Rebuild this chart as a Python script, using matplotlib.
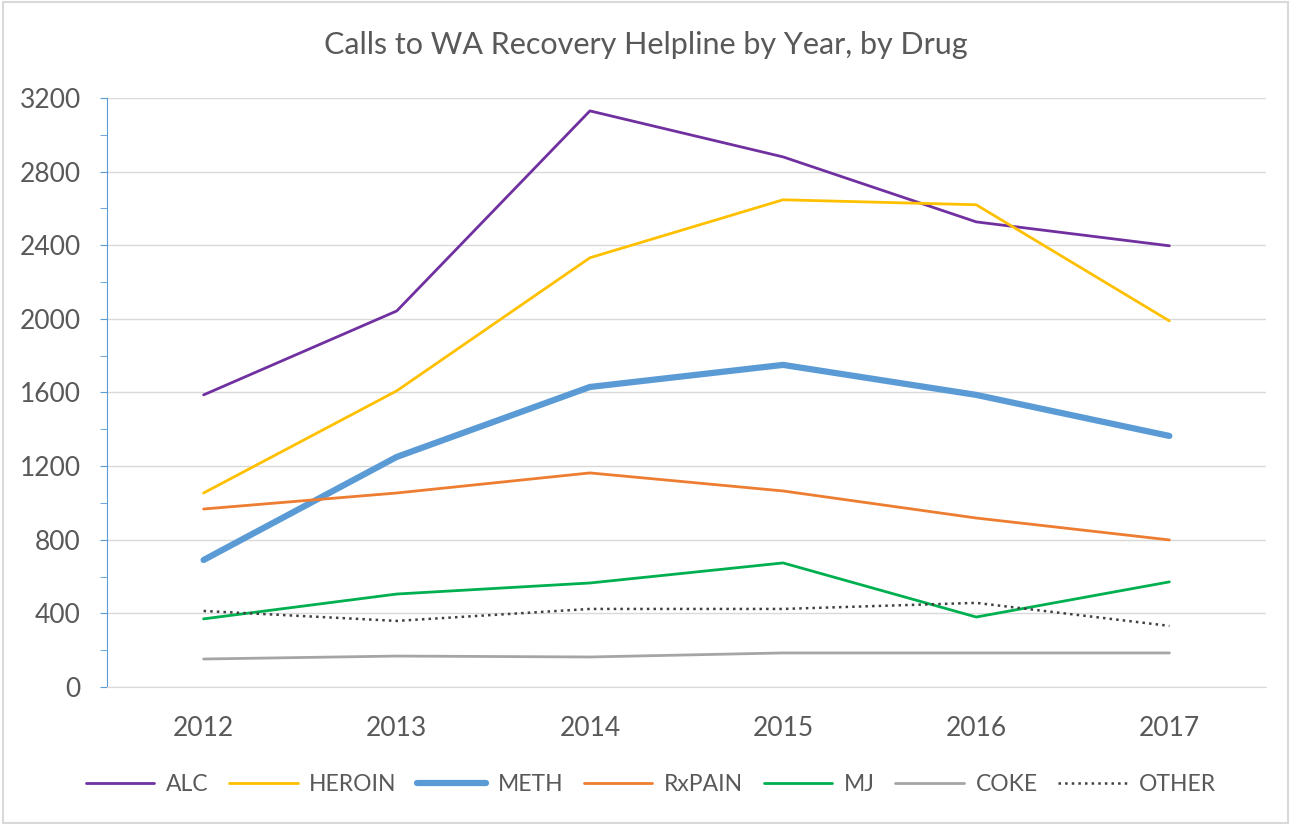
import numpy as np
import matplotlib
matplotlib.use("Agg")
from matplotlib import pyplot as plt
from matplotlib.ticker import MultipleLocator
from matplotlib.patches import Rectangle

plt.rcParams['font.family'] = ['Lato', 'DejaVu Sans']

years = ['2012', '2013', '2014', '2015', '2016', '2017']

alc = [1587, 2043, 3130, 2880, 2527, 2397]
heroin = [1054, 1609, 2332, 2647, 2620, 1989]
meth = [690, 1250, 1630, 1750, 1587, 1364]
rxpain = [967, 1054, 1163, 1065, 918, 799]
mj = [370, 505, 565, 674, 380, 571]
coke = [152, 168, 163, 185, 185, 185]
other = [413, 359, 424, 424, 457, 332]

fig = plt.figure(figsize=(12.91, 8.25), dpi=100)
ax = fig.add_axes([0.0829, 0.1673, 0.8977, 0.7139])

x = np.arange(len(years))
# (label, data, couleur, epaisseur, style)
series = [
    ('ALC', alc, '#7030A0', 2.0, '-'),
    ('HEROIN', heroin, '#FFC000', 2.0, '-'),
    ('METH', meth, '#5B9BD5', 4.5, '-'),
    ('RxPAIN', rxpain, '#ED7D31', 2.0, '-'),
    ('MJ', mj, '#00B050', 2.0, '-'),
    ('COKE', coke, '#A5A5A5', 2.0, '-'),
    ('OTHER', other, '#404040', 1.8, ':'),
]
for lab, d, c, lw, ls in series:
    ax.plot(x, d, color=c, linewidth=lw, linestyle=ls, label=lab, solid_capstyle='round')

ax.set_xlim(-0.5, 5.5)
ax.set_ylim(0, 3200)
ax.set_xticks(x)
ax.set_xticklabels(years)
ax.yaxis.set_major_locator(MultipleLocator(400))
ax.yaxis.set_minor_locator(MultipleLocator(200))
ax.grid(True, axis='y', color='#D9D9D9', linewidth=1)
ax.set_axisbelow(True)

for s in ['top', 'right']:
    ax.spines[s].set_visible(False)
ax.spines['left'].set_color('#5B9BD5')
ax.spines['bottom'].set_color('#D9D9D9')
ax.tick_params(axis='y', which='both', direction='out', color='#5B9BD5', length=5,
               labelsize=19, labelcolor='#595959', pad=14)
ax.tick_params(axis='x', length=0, labelsize=19, labelcolor='#595959', pad=21)

# titre centré sur la figure
fig.text(0.5, 1 - 45 / 825, 'Calls to WA Recovery Helpline by Year, by Drug',
         fontsize=22, color='#595959', ha='center', va='center')

ax.legend(loc='center', bbox_to_anchor=(0.469, -0.166), ncol=7, frameon=False,
          fontsize=16.5, labelcolor='#595959', handlelength=3.0, columnspacing=0.9,
          handletextpad=0.5)

fig.patches.append(Rectangle((0.002, 0.002), 0.996, 0.996, transform=fig.transFigure,
                             fill=False, edgecolor='#D9D9D9', linewidth=1.5))

plt.savefig('out.png', dpi=100)
